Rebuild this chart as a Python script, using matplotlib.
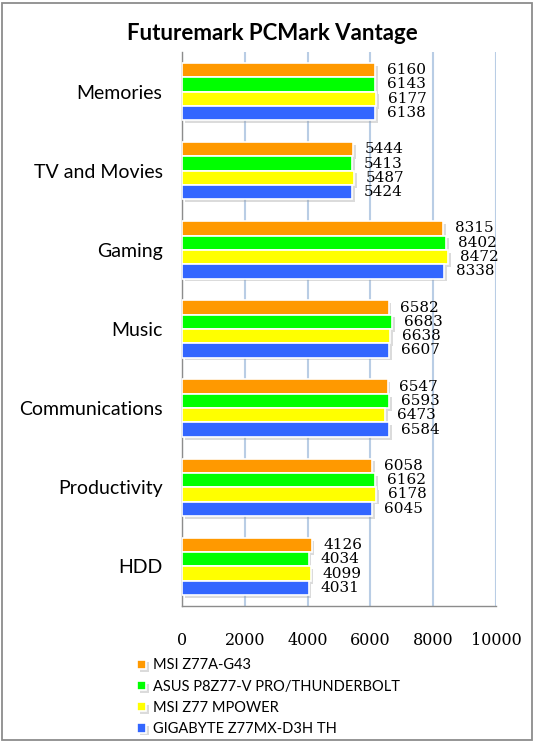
import numpy as np
import matplotlib
matplotlib.use('Agg')
import matplotlib.pyplot as plt
import matplotlib.patheffects as pe
from matplotlib.patches import Rectangle

categories = ['Memories', 'TV and Movies', 'Gaming', 'Music',
              'Communications', 'Productivity', 'HDD']
series_names = ['MSI Z77A-G43', 'ASUS P8Z77-V PRO/THUNDERBOLT',
                'MSI Z77 MPOWER', 'GIGABYTE Z77MX-D3H TH']
msi_g43 = [6160, 5444, 8315, 6582, 6547, 6058, 4126]
asus_p8z77 = [6143, 5413, 8402, 6683, 6593, 6162, 4034]
msi_mpower = [6177, 5487, 8472, 6638, 6473, 6178, 4099]
gigabyte_d3h = [6138, 5424, 8338, 6607, 6584, 6045, 4031]
colors = ['#FF9900', '#00FF00', '#FFFF00', '#3366FF']
xticks = [0, 2000, 4000, 6000, 8000, 10000]

W, H = 535, 742
fig = plt.figure(figsize=(W / 100, H / 100), dpi=100)

# outer chart border
fig.patches.append(Rectangle((2 / W, 2 / H), 530 / W, 737 / H,
                             transform=fig.transFigure, fill=False,
                             edgecolor='#8c8c8c', lw=1.3))

ax = fig.add_axes([182 / W, (H - 606) / H, 314 / W, 554 / H])

y = np.arange(len(categories))
h = 0.181
shadow = [pe.SimplePatchShadow(offset=(2, -2), shadow_rgbFace='#999999',
                               alpha=0.35), pe.Normal()]
all_series = [msi_g43, asus_p8z77, msi_mpower, gigabyte_d3h]
handles = []
for i, (vals, col, name) in enumerate(zip(all_series, colors, series_names)):
    bars = ax.barh(y + (i - 1.5) * h, vals, height=h, color=col,
                   edgecolor='white', linewidth=1.2, label=name, zorder=3)
    for b in bars:
        b.set_path_effects(shadow)
    handles.append(bars)
    for yy, v in zip(y + (i - 1.5) * h, vals):
        ax.annotate(str(v), (v, yy), xytext=(8.5, 0),
                    textcoords='offset points', ha='left', va='center',
                    fontsize=11, family='DejaVu Serif', zorder=4)

ax.set_xlim(0, 10000)
ax.set_ylim(len(categories) - 0.5, -0.5)
ax.set_xticks(xticks)
ax.set_xticklabels([str(t) for t in xticks], family='DejaVu Serif',
                   fontsize=11.5)
ax.set_yticks(y)
ax.set_yticklabels(categories, family='Lato', fontsize=14)
ax.tick_params(axis='both', length=0)
ax.tick_params(axis='x', pad=19)
ax.tick_params(axis='y', pad=14)
ax.grid(axis='x', color='#B9CDE5', lw=1.5, zorder=0)
ax.set_axisbelow(True)
for s in ['top', 'right']:
    ax.spines[s].set_visible(False)
for s in ['left', 'bottom']:
    ax.spines[s].set_color('#8c8c8c')
    ax.spines[s].set_linewidth(1.0)

fig.text(272 / W, (H - 33) / H, 'Futuremark PCMark Vantage', ha='center',
         va='center', fontsize=16, fontweight='bold', family='Lato')

fig.legend(handles=handles, labels=series_names, loc='upper left',
           bbox_to_anchor=(130 / W, (H - 651) / H), frameon=False,
           prop={'family': 'Lato', 'size': 10.5}, handlelength=0.6,
           handleheight=0.6, handletextpad=0.5, labelspacing=0.5,
           borderpad=0)

fig.savefig('out.png', dpi=100)
